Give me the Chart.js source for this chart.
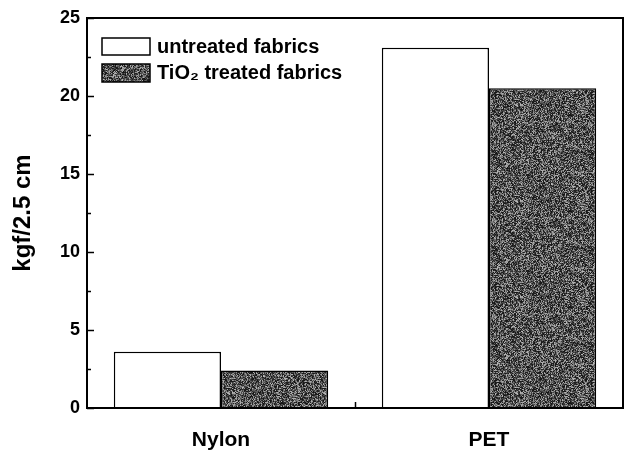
<!DOCTYPE html>
<html>
<head>
<meta charset="utf-8">
<script src="https://cdn.jsdelivr.net/npm/chart.js@4"></script>
<style>
  html, body { margin: 0; padding: 0; background: #fff; }
  #wrap { width: 630px; height: 454px; }
</style>
</head>
<body>
<div id="wrap"><canvas id="c" width="630" height="454"></canvas></div>
<script>
// Tensile strength of fabrics before and after TiO2 treatment
const categories = ['Nylon', 'PET'];
const untreated = [3.6, 23.1];
const tio2Treated = [2.4, 20.5];
const seriesNames = ['untreated fabrics', 'TiO\u2082 treated fabrics'];
const yTicks = [0, 5, 10, 15, 20, 25];
const yTitle = 'kgf/2.5 cm';

const FONT = '"Liberation Sans", Arial, Helvetica, sans-serif';

// Grainy dark-grey fill used for the treated series
function grainPattern() {
  const size = 96;
  const cv = document.createElement('canvas');
  cv.width = cv.height = size;
  const g = cv.getContext('2d');
  const img = g.createImageData(size, size);
  let seed = 20240611;
  for (let i = 0; i < size * size; i++) {
    seed = (Math.imul(seed, 1103515245) + 12345) >>> 0;
    const r = (seed >>> 8) / 16777216;
    const v = Math.round(20 + 165 * Math.pow(r, 1.5));
    img.data[i * 4] = img.data[i * 4 + 1] = img.data[i * 4 + 2] = v;
    img.data[i * 4 + 3] = 255;
  }
  g.putImageData(img, 0, 0);
  return g.createPattern(cv, 'repeat');
}

// Plot frame with inward tick marks
const frame = {
  id: 'frame',
  afterDatasetsDraw(chart) {
    const { ctx, chartArea: a, scales } = chart;
    ctx.save();
    ctx.strokeStyle = '#000';
    ctx.lineWidth = 1.5;
    const ys = scales.y;
    for (let v = 0; v <= 25; v += 2.5) {
      const py = Math.round(ys.getPixelForValue(v)) + 0.5;
      const len = (v % 5 === 0) ? 7 : 4;
      ctx.beginPath();
      ctx.moveTo(a.left, py);
      ctx.lineTo(a.left + len, py);
      ctx.stroke();
    }
    const xs = scales.x;
    for (let i = 0; i < categories.length - 1; i++) {
      const px = Math.round((xs.getPixelForValue(i) + xs.getPixelForValue(i + 1)) / 2) + 0.5;
      ctx.beginPath();
      ctx.moveTo(px, a.bottom);
      ctx.lineTo(px, a.bottom - 6);
      ctx.stroke();
    }
    ctx.lineWidth = 2;
    ctx.strokeRect(a.left, a.top, a.right - a.left, a.bottom - a.top);
    ctx.restore();
  }
};

// Legend drawn inside the plot, top-left
const insideLegend = {
  id: 'insideLegend',
  afterDraw(chart) {
    const { ctx, chartArea: a } = chart;
    ctx.save();
    chart.data.datasets.forEach((ds, i) => {
      const x = a.left + 15;
      const y = a.top + 20 + i * 26;
      const h = i === 0 ? 17 : 18;
      ctx.fillStyle = ds.backgroundColor;
      ctx.fillRect(x, y, 48, h);
      ctx.strokeStyle = '#000';
      ctx.lineWidth = 1.5;
      ctx.strokeRect(x, y, 48, h);
      ctx.fillStyle = '#000';
      ctx.font = 'bold 20px ' + FONT;
      ctx.textBaseline = 'middle';
      ctx.textAlign = 'left';
      ctx.fillText(ds.label, x + 55, y + 9);
    });
    ctx.restore();
  }
};

new Chart(document.getElementById('c'), {
  type: 'bar',
  data: {
    labels: categories,
    datasets: [
      {
        label: seriesNames[0],
        data: untreated,
        backgroundColor: '#ffffff',
        borderColor: '#000',
        borderWidth: 1.5
      },
      {
        label: seriesNames[1],
        data: tio2Treated,
        backgroundColor: grainPattern(),
        borderColor: '#000',
        borderWidth: 1.5
      }
    ]
  },
  options: {
    responsive: false,
    animation: false,
    events: [],
    layout: { padding: { left: 0, right: 7, top: 18, bottom: 0 } },
    datasets: { bar: { categoryPercentage: 0.8, barPercentage: 1.0 } },
    plugins: {
      legend: { display: false },
      tooltip: { enabled: false }
    },
    scales: {
      x: {
        grid: { display: false, drawTicks: false },
        border: { display: false },
        ticks: {
          color: '#000',
          padding: 20,
          font: { family: FONT, size: 21, weight: 'bold' }
        },
        afterFit(s) { s.height = 46; }
      },
      y: {
        min: 0,
        max: 25,
        afterBuildTicks(s) { s.ticks = yTicks.map(v => ({ value: v })); },
        grid: { display: false, drawTicks: false },
        border: { display: false },
        ticks: {
          color: '#000',
          padding: 7,
          font: { family: FONT, size: 18, weight: 'bold' }
        },
        title: {
          display: true,
          text: yTitle,
          color: '#000',
          padding: { top: 9, bottom: 0 },
          font: { family: FONT, size: 24, weight: 'bold' }
        },
        afterFit(s) { s.width = 87; }
      }
    }
  },
  plugins: [frame, insideLegend]
});
</script>
</body>
</html>
